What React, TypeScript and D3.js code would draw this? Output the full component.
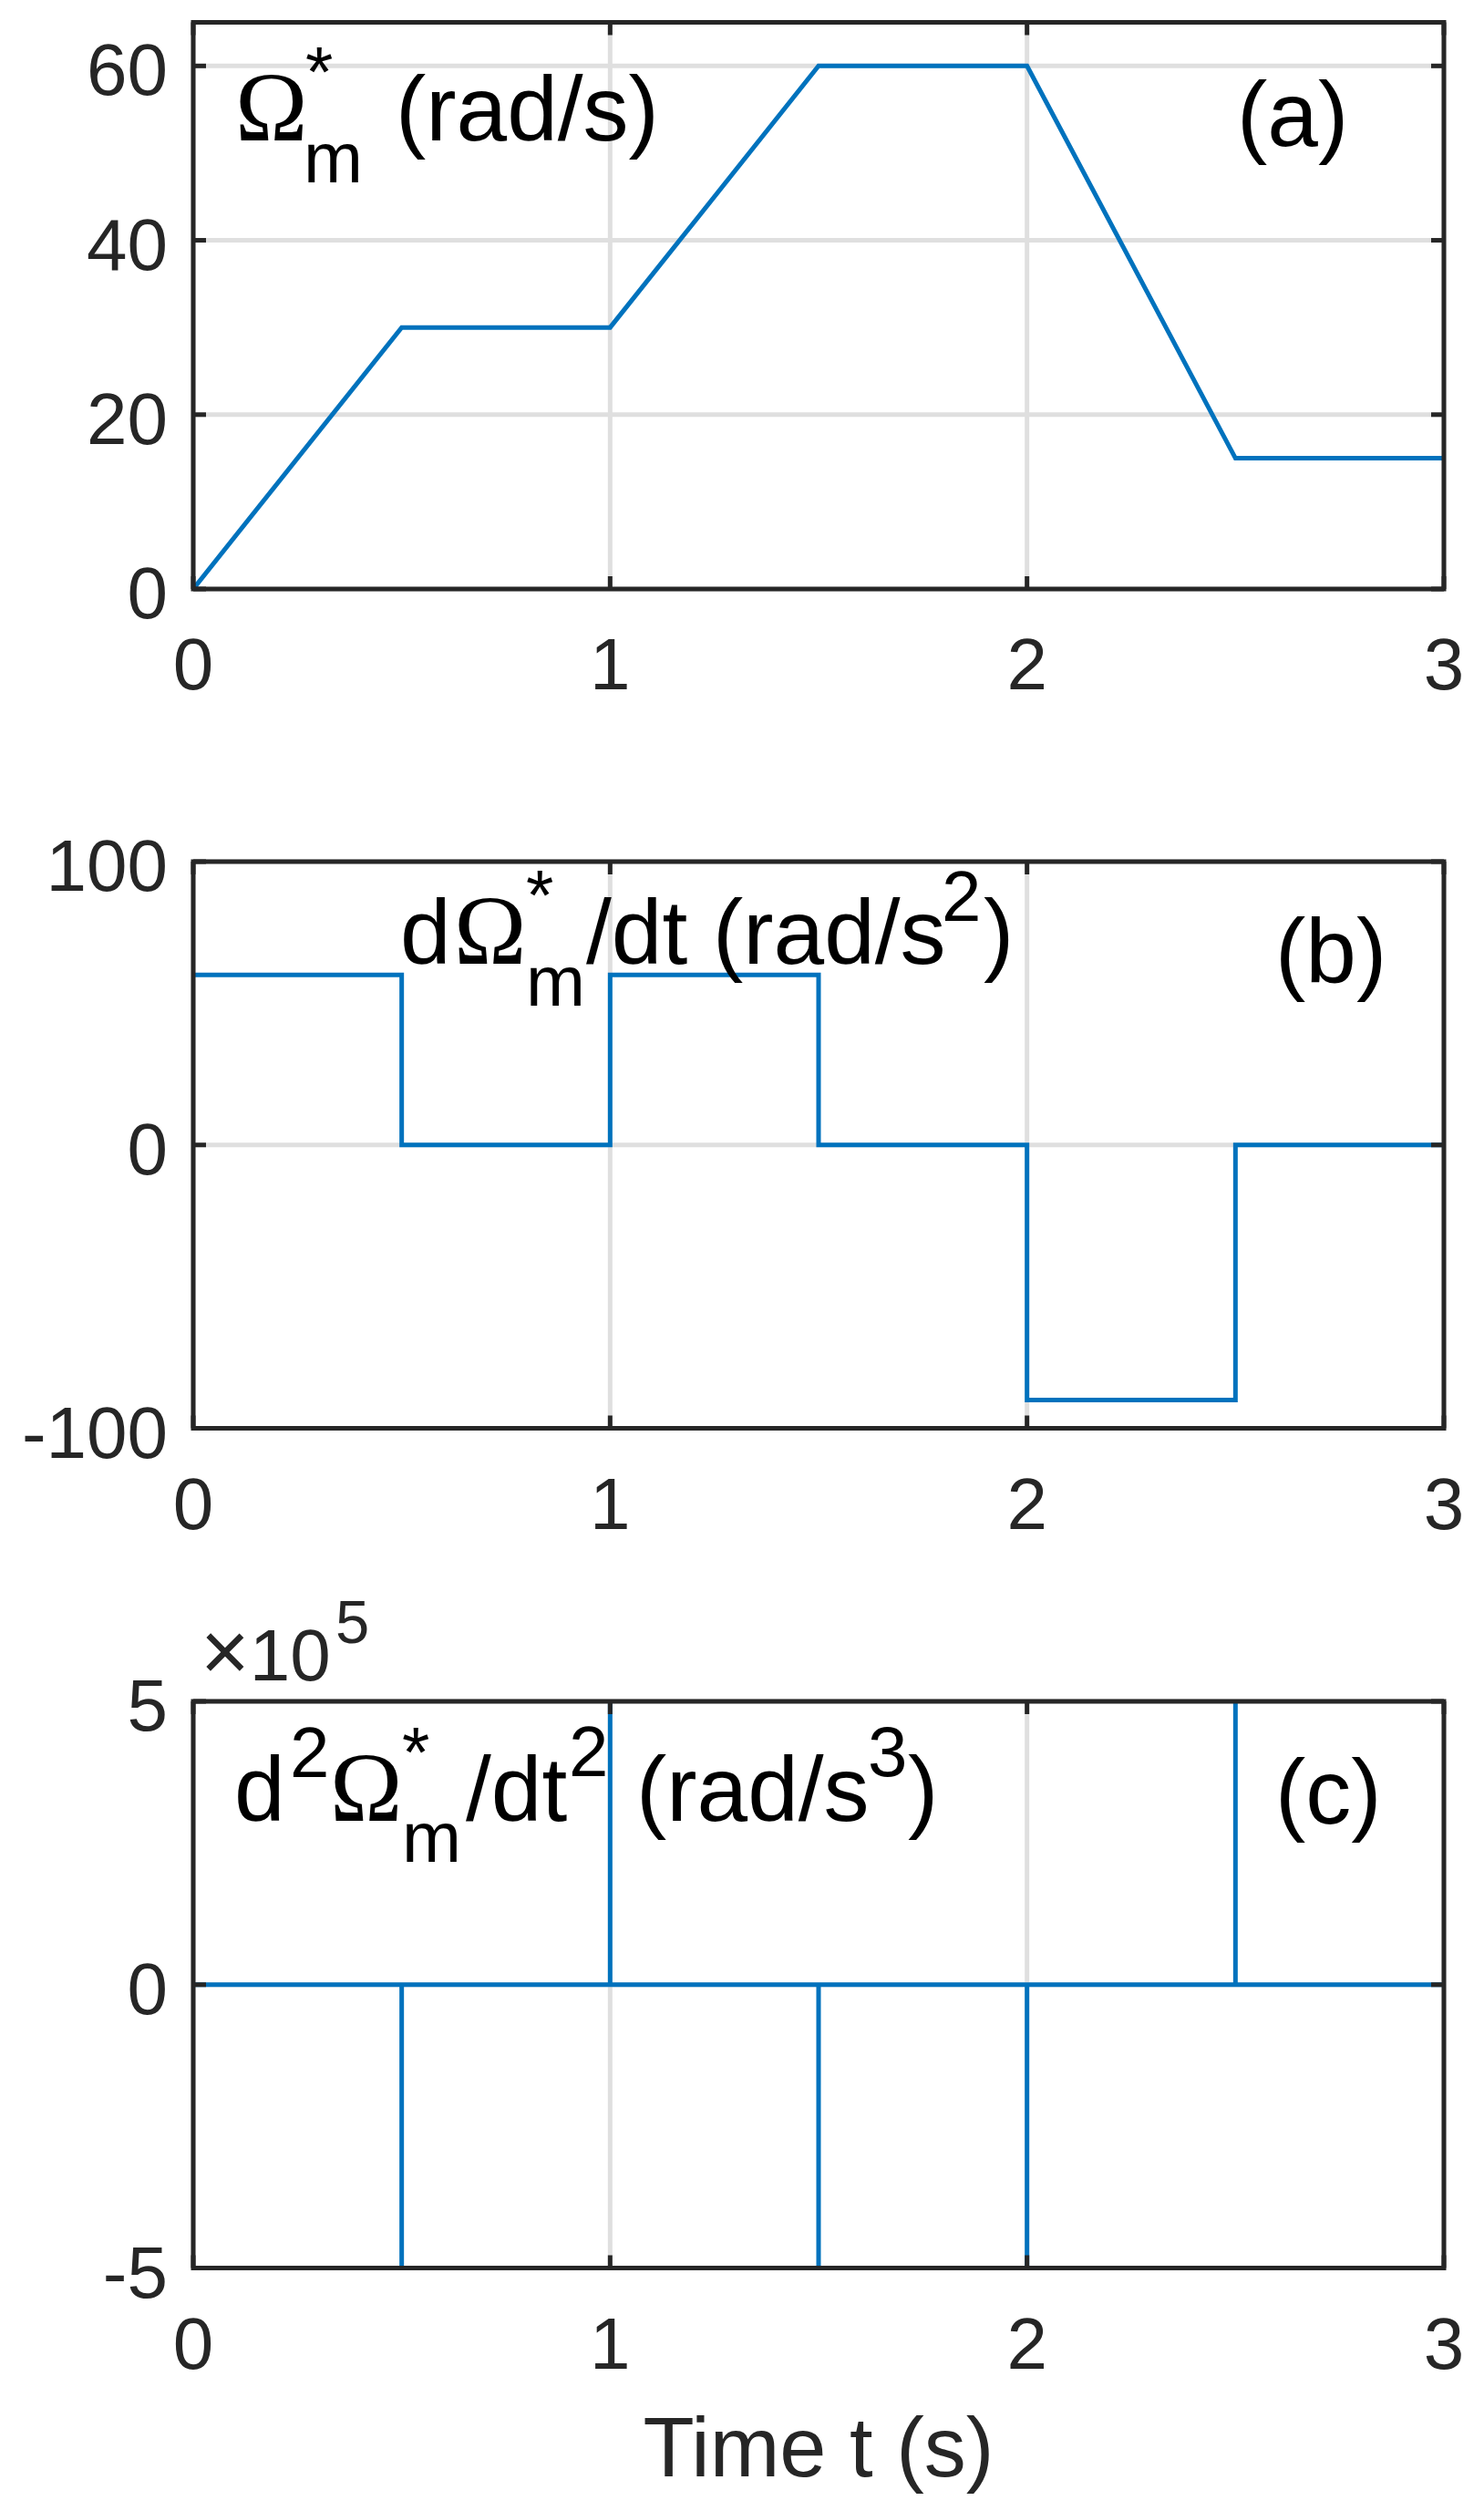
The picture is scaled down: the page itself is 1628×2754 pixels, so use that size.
import React from 'react';
import * as d3 from 'd3';

const W = 1628;
const H = 2754;

// time axis shared by all three panels
const timeTicks = [0, 1, 2, 3];

// (a) speed reference
const speedTime = [0, 0.5, 1, 1.5, 2, 2.5, 3];
const speedRef = [0, 30, 30, 60, 60, 15, 15];
const speedTicks = [0, 20, 40, 60];

// (b) acceleration, piecewise constant
const accelTime = [0, 0.5, 1, 1.5, 2, 2.5, 3];
const accelRef = [60, 0, 60, 0, -90, 0, 0];
const accelTicks = [-100, 0, 100];

// (c) jerk, impulses at the corners (clipped by the axes)
const jerkSpikeTime = [0.5, 1, 1.5, 2, 2.5];
const jerkSpikeValue = [-6e5, 6e5, -6e5, -9e5, 9e5];
const jerkTicks = [-5e5, 0, 5e5];

const SANS = '"Liberation Sans", Arial, Helvetica, sans-serif';
const SERIF = '"Liberation Serif", "Times New Roman", serif';
const AXIS = '#262626';
const GRID = '#dfdfdf';
const BLUE = '#0072BD';
const LW = 5;

const left = 212;
const right = 1584;
const plotH = 621.5;
const tops = [24.5, 945, 1866];
const TICK = 14;

function Panel({ id, top, domain, yTicks, yFmt, data, curve, children }) {
  const bottom = top + plotH;
  const x = d3.scaleLinear().domain([0, 3]).range([left, right]);
  const y = d3.scaleLinear().domain(domain).range([bottom, top]);
  const line = d3.line().x(d => x(d[0])).y(d => y(d[1])).curve(curve || d3.curveLinear);
  return (
    <g>
      <defs>
        <clipPath id={`clip-${id}`}>
          <rect x={left} y={top} width={right - left} height={plotH} />
        </clipPath>
      </defs>
      {/* grid */}
      {yTicks.map(v => (
        <line key={'gy' + v} x1={left} x2={right} y1={y(v)} y2={y(v)} stroke={GRID} strokeWidth={LW} />
      ))}
      {timeTicks.map(t => (
        <line key={'gx' + t} x1={x(t)} x2={x(t)} y1={top} y2={bottom} stroke={GRID} strokeWidth={LW} />
      ))}
      {/* data */}
      <path d={line(data)} fill="none" stroke={BLUE} strokeWidth={LW} clipPath={`url(#clip-${id})`} />
      {/* ticks */}
      {yTicks.map(v => (
        <g key={'ty' + v}>
          <line x1={left} x2={left + TICK} y1={y(v)} y2={y(v)} stroke={AXIS} strokeWidth={LW} />
          <line x1={right} x2={right - TICK} y1={y(v)} y2={y(v)} stroke={AXIS} strokeWidth={LW} />
          <text x={left - 28} y={y(v) + 32} textAnchor="end" fontSize={80} fill={AXIS} fontFamily={SANS}>
            {yFmt(v)}
          </text>
        </g>
      ))}
      {timeTicks.map(t => (
        <g key={'tx' + t}>
          <line x1={x(t)} x2={x(t)} y1={bottom} y2={bottom - TICK} stroke={AXIS} strokeWidth={LW} />
          <line x1={x(t)} x2={x(t)} y1={top} y2={top + TICK} stroke={AXIS} strokeWidth={LW} />
          <text x={x(t)} y={bottom + 110} textAnchor="middle" fontSize={80} fill={AXIS} fontFamily={SANS}>
            {t}
          </text>
        </g>
      ))}
      {/* box */}
      <rect x={left} y={top} width={right - left} height={plotH} fill="none" stroke={AXIS} strokeWidth={LW} />
      {children}
    </g>
  );
}

const T = (p) => <text fontFamily={SANS} fill="#000" {...p} />;
const Om = (p) => <text fontFamily={SERIF} fontSize={107} fill="#000" {...p}>Ω</text>;

export default function App() {
  const speedData = speedTime.map((t, i) => [t, speedRef[i]]);
  const accelData = accelTime.map((t, i) => [t, accelRef[i]]);
  const jerkData = [[0, 0]];
  jerkSpikeTime.forEach((t, i) => {
    jerkData.push([t, 0], [t, jerkSpikeValue[i]], [t, 0]);
  });
  jerkData.push([3, 0]);

  const [ta, tb, tc] = tops;

  return (
    <div style={{ position: 'absolute', left: 0, top: 0, width: W, height: H, background: '#fff' }}>
      <svg width={W} height={H} viewBox={`0 0 ${W} ${H}`}>
        <rect width={W} height={H} fill="#fff" />

        <Panel id="a" top={ta} domain={[0, 65]} yTicks={speedTicks} yFmt={v => String(v)} data={speedData}>
          <Om x={258} y={154} />
          <T x={335} y={106} fontSize={78}>*</T>
          <T x={333} y={200} fontSize={78}>m</T>
          <T x={434} y={154} fontSize={100}>(rad/s)</T>
          <T x={1357} y={160} fontSize={100}>(a)</T>
        </Panel>

        <Panel id="b" top={tb} domain={[-100, 100]} yTicks={accelTicks} yFmt={v => String(v)} data={accelData} curve={d3.curveStepAfter}>
          <T x={439} y={1057} fontSize={100}>d</T>
          <Om x={498} y={1057} />
          <T x={577} y={1009} fontSize={78}>*</T>
          <T x={577} y={1103} fontSize={78}>m</T>
          <T x={643} y={1057} fontSize={100}>/dt (rad/s</T>
          <T x={1033} y={1010} fontSize={78}>2</T>
          <T x={1079} y={1057} fontSize={100}>)</T>
          <T x={1399} y={1078} fontSize={100}>(b)</T>
        </Panel>

        <Panel id="c" top={tc} domain={[-5e5, 5e5]} yTicks={jerkTicks} yFmt={v => String(v / 1e5)} data={jerkData}>
          <T x={257} y={1997} fontSize={100}>d</T>
          <T x={318} y={1949} fontSize={78}>2</T>
          <Om x={362} y={1997} />
          <T x={441} y={1949} fontSize={78}>*</T>
          <T x={441} y={2042} fontSize={78}>m</T>
          <T x={511} y={1997} fontSize={100}>/dt</T>
          <T x={624} y={1948} fontSize={78}>2</T>
          <T x={698} y={1997} fontSize={100}>(rad/s</T>
          <T x={952} y={1948} fontSize={78}>3</T>
          <T x={996} y={1997} fontSize={100}>)</T>
          <T x={1399} y={2000} fontSize={100}>(c)</T>
          <text x={220} y={1843} fontFamily={SANS} fontSize={80} fill={AXIS}>
            <tspan fontSize={92}>×</tspan>10
          </text>
          <text x={368} y={1802} fontFamily={SANS} fontSize={67} fill={AXIS}>5</text>
        </Panel>

        <text x={(left + right) / 2} y={2716} textAnchor="middle" fontFamily={SANS} fontSize={92} fill={AXIS}>
          Time t (s)
        </text>
      </svg>
    </div>
  );
}
